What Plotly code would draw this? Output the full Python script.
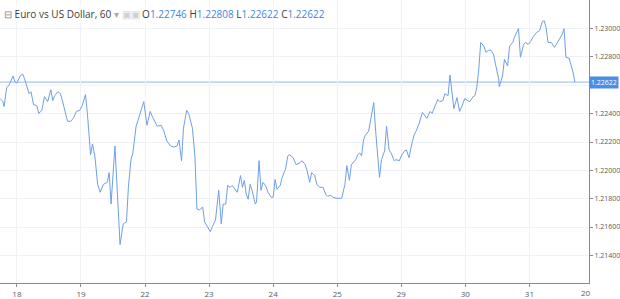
import plotly.graph_objects as go

# time in trading-day units (0 = "18"), values = EUR/USD hourly close
day_pos = [-0.26, -0.22, -0.20, -0.16, -0.12, -0.06, -0.03, 0.00, 0.05, 0.09, 0.12, 0.16, 0.19, 0.22, 0.23,
           0.26, 0.31, 0.34, 0.39, 0.43, 0.48, 0.53, 0.56, 0.59, 0.64, 0.68, 0.71, 0.76, 0.79, 0.84, 0.88,
           0.93, 0.98, 1.02, 1.07, 1.10, 1.12, 1.15, 1.18, 1.22, 1.26, 1.30, 1.35, 1.41, 1.44, 1.47, 1.53,
           1.57, 1.61, 1.66, 1.71, 1.74, 1.78, 1.81, 1.86, 1.89, 1.94, 1.98, 2.03, 2.08, 2.12, 2.19, 2.25,
           2.29, 2.34, 2.40, 2.45, 2.50, 2.53, 2.57, 2.60, 2.65, 2.68, 2.73, 2.74, 2.78, 2.81, 2.85, 2.90,
           2.93, 2.98, 3.02, 3.05, 3.10, 3.15, 3.19, 3.22, 3.26, 3.29, 3.33, 3.36, 3.41, 3.44, 3.49, 3.52,
           3.55, 3.58, 3.61, 3.64, 3.67, 3.72, 3.74, 3.78, 3.81, 3.84, 3.88, 3.92, 3.97, 4.00, 4.03, 4.06,
           4.11, 4.14, 4.19, 4.23, 4.26, 4.31, 4.36, 4.42, 4.45, 4.50, 4.53, 4.57, 4.60, 4.65, 4.68, 4.73,
           4.78, 4.82, 4.85, 4.90, 4.93, 4.98, 5.04, 5.07, 5.12, 5.15, 5.19, 5.22, 5.29, 5.32, 5.35, 5.38,
           5.41, 5.44, 5.49, 5.52, 5.57, 5.60, 5.66, 5.69, 5.74, 5.77, 5.81, 5.84, 5.89, 5.92, 5.97, 6.00,
           6.05, 6.08, 6.12, 6.16, 6.20, 6.23, 6.28, 6.33, 6.36, 6.40, 6.45, 6.48, 6.53, 6.57, 6.60, 6.65,
           6.68, 6.73, 6.76, 6.81, 6.82, 6.87, 6.91, 6.95, 6.99, 7.04, 7.07, 7.12, 7.15, 7.18, 7.21, 7.24,
           7.29, 7.32, 7.36, 7.40, 7.44, 7.47, 7.52, 7.53, 7.58, 7.61, 7.66, 7.69, 7.74, 7.77, 7.83, 7.86,
           7.91, 7.94, 7.98, 8.02, 8.06, 8.11, 8.16, 8.20, 8.23, 8.26, 8.29, 8.34, 8.39, 8.42, 8.47, 8.51,
           8.54, 8.57, 8.62, 8.65, 8.68, 8.71]

close = [1.22506, 1.22485, 1.22450, 1.22583, 1.22603, 1.22666, 1.22624, 1.22617, 1.22666, 1.22680, 1.22645,
         1.22576, 1.22541, 1.22555, 1.22527, 1.22464, 1.22457, 1.22402, 1.22423, 1.22520, 1.22485, 1.22569,
         1.22492, 1.22527, 1.22555, 1.22541, 1.22492, 1.22402, 1.22346, 1.22346, 1.22367, 1.22416, 1.22423,
         1.22457, 1.22534, 1.22402, 1.22263, 1.22110, 1.22186, 1.22089, 1.21901, 1.21845, 1.21901, 1.21915,
         1.21984, 1.21762, 1.22172, 1.21789, 1.21476, 1.21623, 1.21636, 1.21880, 1.22075, 1.22123, 1.22311,
         1.22353, 1.22423, 1.22485, 1.22318, 1.22416, 1.22374, 1.22311, 1.22318, 1.22283, 1.22207, 1.22172,
         1.22165, 1.22172, 1.22214, 1.22068, 1.22297, 1.22423, 1.22402, 1.22318, 1.22297, 1.22089, 1.21727,
         1.21720, 1.21741, 1.21636, 1.21602, 1.21567, 1.21602, 1.21650, 1.21859, 1.21623, 1.21762, 1.21762,
         1.21894, 1.21880, 1.21894, 1.21866, 1.21845, 1.21963, 1.21880, 1.21929, 1.21831, 1.21796, 1.21901,
         1.21859, 1.21762, 1.21776, 1.22068, 1.21859, 1.21915, 1.21894, 1.21845, 1.21810, 1.21810, 1.21936,
         1.21866, 1.21894, 1.21950, 1.22005, 1.22103, 1.22110, 1.22089, 1.22040, 1.22054, 1.22068, 1.22040,
         1.21998, 1.21915, 1.21984, 1.21963, 1.21901, 1.21880, 1.21880, 1.21831, 1.21817, 1.21824, 1.21810,
         1.21803, 1.21803, 1.21803, 1.21901, 1.22033, 1.21929, 1.22040, 1.22075, 1.22110, 1.22123, 1.22103,
         1.22214, 1.22249, 1.22276, 1.22346, 1.22478, 1.22276, 1.21950, 1.22075, 1.22137, 1.22311, 1.22144,
         1.22123, 1.22068, 1.22075, 1.22068, 1.22103, 1.22137, 1.22144, 1.22089, 1.22179, 1.22249, 1.22276,
         1.22332, 1.22409, 1.22388, 1.22367, 1.22416, 1.22402, 1.22457, 1.22499, 1.22485, 1.22492, 1.22541,
         1.22527, 1.22673, 1.22506, 1.22436, 1.22513, 1.22416, 1.22457, 1.22506, 1.22492, 1.22485, 1.22520,
         1.22527, 1.22590, 1.22715, 1.22903, 1.22875, 1.22833, 1.22847, 1.22847, 1.22819, 1.22750, 1.22645,
         1.22590, 1.22666, 1.22784, 1.22736, 1.22875, 1.22903, 1.22944, 1.23000, 1.22798, 1.22889, 1.22903,
         1.22889, 1.22910, 1.22944, 1.22972, 1.22986, 1.23049, 1.23056, 1.23007, 1.22903, 1.22903, 1.22868,
         1.22889, 1.22923, 1.22958, 1.23000, 1.22798, 1.22791, 1.22750, 1.22694, 1.22622]

tick_pos = [0, 1, 2, 3, 4, 5, 6, 7, 8]
tick_text = ["18", "19", "22", "23", "24", "25", "29", "30", "31"]
last_label_pos = 8.88
last_label = "20"

y_ticks = [1.214, 1.216, 1.218, 1.220, 1.222, 1.224, 1.228, 1.230]
hidden_grid = 1.226
last_price = 1.22622
ohlc = {"O": "1.22746", "H": "1.22808", "L": "1.22622", "C": "1.22622"}

LINE = "#6f9fe6"
GRID = "#eef1f5"
AXIS_TXT = "#5a5a5a"

fig = go.Figure()
fig.add_trace(go.Scatter(x=day_pos, y=close, mode="lines",
                         line=dict(color=LINE, width=1), hoverinfo="skip", showlegend=False))

fig.add_shape(type="line", xref="paper", x0=0, x1=1, yref="y", y0=hidden_grid, y1=hidden_grid,
              line=dict(color=GRID, width=1), layer="below")
fig.add_shape(type="line", xref="paper", x0=0, x1=1, yref="y", y0=last_price, y1=last_price,
              line=dict(color="#a9c6ef", width=1.3), layer="below")

fig.add_annotation(xref="paper", x=1, yref="y", y=last_price, xanchor="left", yanchor="middle",
                   text=f"{last_price:.5f}", showarrow=False, bgcolor="#4a8fe6",
                   font=dict(size=7, color="white", family="Open Sans"), borderpad=1, xshift=0)

fig.add_annotation(xref="x", x=last_label_pos, yref="paper", y=0, yanchor="top", xanchor="center",
                   text=last_label, showarrow=False, yshift=-2,
                   font=dict(size=8, color=AXIS_TXT, family="Open Sans"))

num = "#3f86dd"
header = ("<span style='color:#888'>⊟</span> Euro vs US Dollar, 60 <span style='color:#aaa'>▾</span> "
          "<span style='color:#d0d0d0'>▣▣</span> "
          + " ".join(f"{k}<span style='color:{num}'>{v}</span>" for k, v in ohlc.items()))
fig.add_annotation(xref="paper", yref="paper", x=0, y=1, xanchor="left", yanchor="top",
                   text=header, showarrow=False, xshift=2, yshift=-5,
                   font=dict(size=10, color="#3c3c3c", family="Open Sans"), bgcolor="rgba(255,255,255,0.8)")

fig.update_layout(
    width=620, height=299,
    margin=dict(l=0, r=27, t=0, b=12),
    paper_bgcolor="white", plot_bgcolor="white",
    xaxis=dict(range=[-0.264, 8.93], tickvals=tick_pos, ticktext=tick_text,
               showgrid=True, gridcolor=GRID, gridwidth=1, zeroline=False,
               showline=True, linecolor="#8a8a8a", linewidth=1,
               ticks="outside", ticklen=3, tickcolor="#8a8a8a",
               tickfont=dict(size=8, color=AXIS_TXT, family="Open Sans")),
    yaxis=dict(side="right", range=[1.21205, 1.23202], tickvals=y_ticks, tickformat=".5f",
               showgrid=True, gridcolor=GRID, gridwidth=1, zeroline=False,
               showline=True, linecolor="#8a8a8a", linewidth=1,
               ticks="outside", ticklen=3, tickcolor="#8a8a8a",
               tickfont=dict(size=7, color=AXIS_TXT, family="Open Sans")),
)

fig.write_html("out.html")
